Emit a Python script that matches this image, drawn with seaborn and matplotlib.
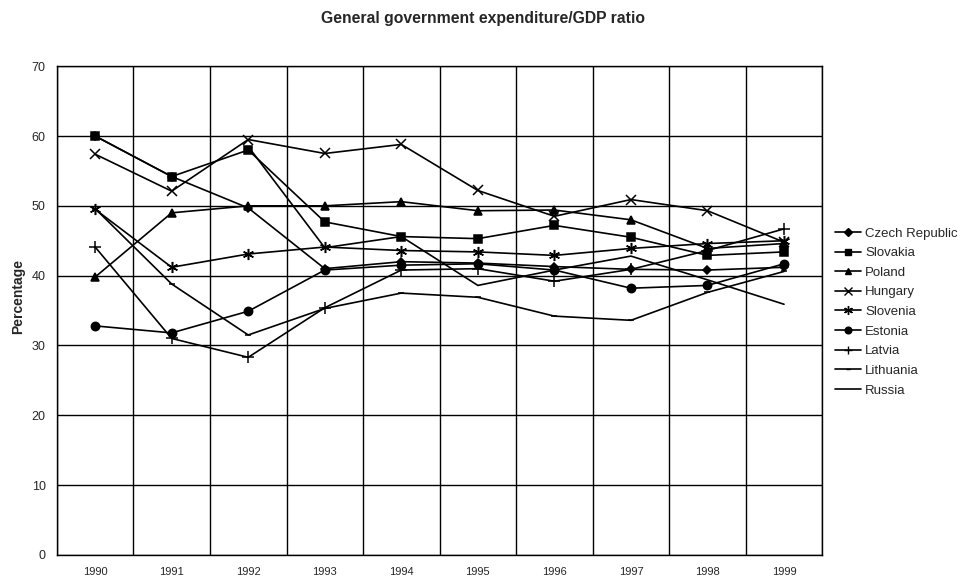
import numpy as np
import pandas as pd
import matplotlib
matplotlib.use("Agg")
import matplotlib.pyplot as plt
import seaborn as sns

years = ["1990", "1991", "1992", "1993", "1994", "1995", "1996", "1997", "1998", "1999"]

countries = ["Czech Republic", "Slovakia", "Poland", "Hungary", "Slovenia",
             "Estonia", "Latvia", "Lithuania", "Russia"]

czech     = [60.0, 54.2, 49.7, 41.0, 42.0, 41.8, 41.3, 40.9, 40.8, 41.2]
slovakia  = [60.0, 54.2, 58.0, 47.7, 45.6, 45.3, 47.2, 45.5, 42.9, 43.4]
poland    = [39.8, 49.0, 50.0, 50.0, 50.6, 49.3, 49.4, 48.0, 43.9, 44.6]
hungary   = [57.4, 52.1, 59.5, 57.5, 58.8, 52.2, 48.5, 50.9, 49.3, 44.8]
slovenia  = [49.5, 41.2, 43.1, 44.1, 43.6, 43.4, 42.9, 43.9, 44.6, 45.0]
estonia   = [32.8, 31.8, 34.9, 40.8, 41.5, 41.7, 40.8, 38.2, 38.6, 41.7]
latvia    = [44.1, 31.0, 28.3, 35.4, 40.8, 41.0, 39.2, 40.9, 43.6, 46.7]
lithuania = [49.6, 38.8, 31.5, 35.3, 37.5, 36.9, 34.2, 33.6, 37.6, 40.6]
russia    = [np.nan, np.nan, 58.5, 44.0, 45.6, 38.6, 40.8, 42.8, 39.4, 35.9]

series = [czech, slovakia, poland, hungary, slovenia, estonia, latvia, lithuania, russia]

# marker, size per country
marker_map = {
    "Czech Republic": ("D", 4.5),
    "Slovakia": ("s", 6),
    "Poland": ("^", 6),
    "Hungary": ("x", 7),
    "Slovenia": ((6, 2, 0), 8),
    "Estonia": ("o", 6),
    "Latvia": ("+", 8),
    "Lithuania": ("_", 4),
    "Russia": (None, 0),
}

sns.set_style("white")
plt.rcParams["font.family"] = ["Liberation Sans", "DejaVu Sans"]

fig = plt.figure(figsize=(9.64, 5.81), dpi=100)
ax = fig.add_axes([0.059, 0.045, 0.794, 0.841])

handles = []
for name, vals in zip(countries, series):
    d = pd.DataFrame({"pos": np.arange(len(years)), "value": vals}).dropna()
    mk, ms = marker_map[name]
    kw = dict(color="black", linewidth=1.2, legend=False, ax=ax, zorder=3)
    if mk is not None:
        kw.update(marker=mk, markersize=ms, markeredgecolor="black",
                  markeredgewidth=1.1, markerfacecolor="black")
    sns.lineplot(data=d, x="pos", y="value", **kw)
    h, = ax.plot([], [], color="black", linewidth=1.2, marker=mk,
                 markersize=ms * 0.8, markeredgecolor="black",
                 markerfacecolor="black", markeredgewidth=1.0)
    handles.append(h)

ax.set_xlim(-0.5, 9.5)
ax.set_ylim(0, 70)
ax.set_yticks(np.arange(0, 71, 10))
ax.set_xticks(range(len(years)))
ax.set_xticklabels(years, fontsize=8)
ax.set_xticks(np.arange(-0.5, 10, 1.0), minor=True)
ax.tick_params(axis="x", which="major", length=0, pad=9)
ax.tick_params(axis="x", which="minor", length=5, width=1, direction="out", color="black")
ax.tick_params(axis="y", which="major", length=5, width=1, direction="out",
               color="black", labelsize=9, pad=3)

ax.grid(False)
ax.yaxis.grid(True, which="major", color="black", linewidth=1.0)
ax.xaxis.grid(True, which="minor", color="black", linewidth=1.0)
ax.set_axisbelow(True)
for s in ax.spines.values():
    s.set_color("black")
    s.set_linewidth(1.0)

ax.set_xlabel("")
ax.set_ylabel("Percentage", fontsize=10, fontweight="bold")
ax.yaxis.set_label_coords(-0.042, 0.528)

fig.text(0.501, 0.969, "General government expenditure/GDP ratio", fontsize=11.3,
         fontweight="bold", ha="center", va="center")

fig.legend(handles, countries, loc="center left", bbox_to_anchor=(0.866, 0.463),
           frameon=False, fontsize=9.5, labelspacing=0.56, handlelength=2.0,
           handletextpad=0.3, borderaxespad=0, borderpad=0)

fig.savefig("out.png", dpi=100)
